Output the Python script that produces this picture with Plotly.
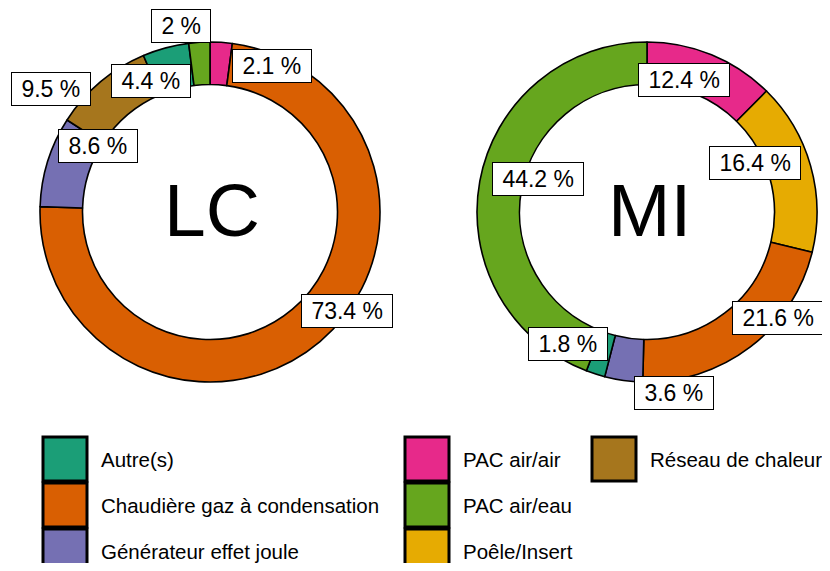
import math
import plotly.graph_objects as go

# categories and Dark2 colours
categories = ["Autre(s)", "Chaudière gaz à condensation", "Générateur effet joule",
              "PAC air/air", "PAC air/eau", "Poêle/Insert", "Réseau de chaleur"]
colors = ["#1B9E77", "#D95F02", "#7570B3", "#E7298A", "#66A61E", "#E6AB02", "#A6761D"]

# slices, clockwise from 12 o'clock
lc_labels = ["PAC air/air", "Chaudière gaz à condensation", "Générateur effet joule",
             "Réseau de chaleur", "Autre(s)", "PAC air/eau"]
lc_values = [2.1, 73.4, 8.6, 9.5, 4.4, 2.0]

mi_labels = ["PAC air/air", "Poêle/Insert", "Chaudière gaz à condensation",
             "Générateur effet joule", "Autre(s)", "PAC air/eau"]
mi_values = [12.4, 16.4, 21.6, 3.6, 1.8, 44.2]

WIN_W, WIN_H = 830, 571
OFF = 8  # default body margin of the html page
W, H = WIN_W - 2 * OFF, WIN_H - 2 * OFF
R = 170
HOLE = 0.75
FONT = "Liberation Sans, Arial, sans-serif"
color_of = dict(zip(categories, colors))


def fx(px):
    return (px - OFF) / W


def fy(py):
    return 1 - (py - OFF) / H


# label nudges in pixels (dx right, dy down), mimicking the repelled labels
lc_nudge = [(52, 2), (41, -14), (30, -22), (-63, -9), (-20, 13), (-20, -38)]
mi_nudge = [(-19, 6), (-35, -8), (41, -12), (47, 34), (-34, -10), (37, -6)]

donuts = [
    ("LC", lc_labels, lc_values, lc_nudge, (210, 212)),
    ("MI", mi_labels, mi_values, mi_nudge, (647, 212)),
]

fig = go.Figure()
annotations = []

for name, labels, values, nudges, (cx, cy) in donuts:
    fig.add_trace(go.Pie(
        labels=labels, values=values, hole=HOLE, sort=False, direction="clockwise",
        rotation=0, textinfo="none", hoverinfo="label+value",
        marker=dict(colors=[color_of[l] for l in labels], line=dict(color="black", width=1.6)),
        domain=dict(x=[fx(cx - R), fx(cx + R)], y=[fy(cy + R), fy(cy - R)]),
        showlegend=False,
    ))
    annotations.append(dict(
        text=name, x=fx(cx + 2), y=fy(cy - 2), xref="paper", yref="paper",
        xanchor="center", yanchor="middle",
        showarrow=False, font=dict(size=75, color="black", family=FONT),
    ))
    total = sum(values)
    cum = 0
    rm = R * (1 + HOLE) / 2
    for v, (dx, dy) in zip(values, nudges):
        theta = 2 * math.pi * (cum + v / 2) / total
        cum += v
        px = cx + rm * math.sin(theta)
        py = cy - rm * math.cos(theta)
        annotations.append(dict(
            text="\u00a0" + f"{v:g} %" + "\u00a0", x=fx(px), y=fy(py),
            xref="paper", yref="paper", xanchor="center", yanchor="middle",
            showarrow=False, xshift=dx, yshift=-dy,
            font=dict(size=23, color="black", family=FONT),
            bgcolor="white", bordercolor="black", borderwidth=1, borderpad=3,
        ))

# manual legend, three columns
shapes = []
col_x = [43, 405, 592]
row_y = [437, 483, 529]
KEY = 44
for i, cat in enumerate(categories):
    x0 = col_x[i // 3]
    y0 = row_y[i % 3]
    shapes.append(dict(
        type="rect", xref="paper", yref="paper",
        x0=fx(x0), x1=fx(x0 + KEY), y0=fy(y0 + KEY), y1=fy(y0),
        fillcolor=color_of[cat], line=dict(color="black", width=3),
    ))
    annotations.append(dict(
        text=cat, x=fx(x0 + KEY + 12), y=fy(y0 + KEY / 2),
        xref="paper", yref="paper", xanchor="left", yanchor="middle",
        showarrow=False, font=dict(size=20.5, color="black", family=FONT),
    ))

fig.update_layout(
    width=W, height=H,
    margin=dict(l=0, r=0, t=0, b=0),
    paper_bgcolor="white", plot_bgcolor="white",
    annotations=annotations, shapes=shapes,
    showlegend=False,
)

fig.write_html("out.html")
